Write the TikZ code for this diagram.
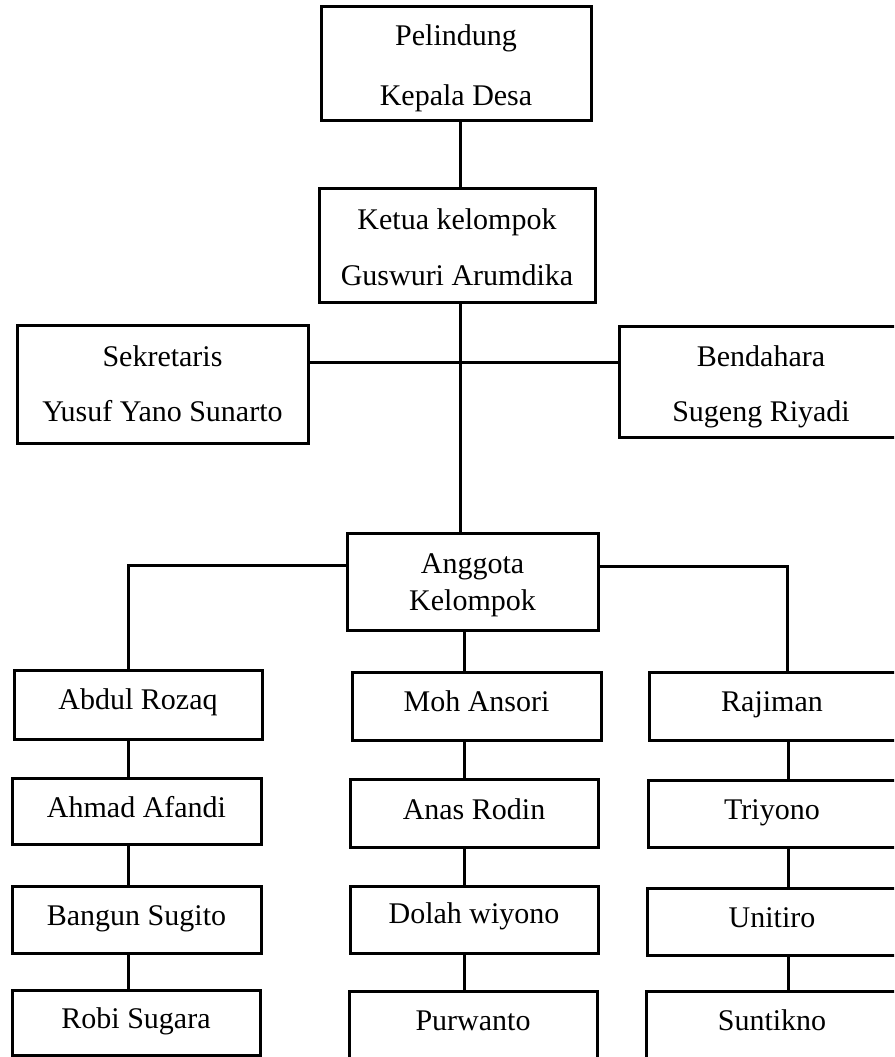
\documentclass[tikz,border=0pt]{standalone}
\usepackage{fontspec}
\setmainfont{Liberation Serif}
\begin{document}
\begin{tikzpicture}[x=1pt,y=-1pt,
  orgbox/.style={draw=black,line width=3pt,fill=white,inner sep=0pt,rectangle,
     minimum width=#1},
  lbl/.style={anchor=base,inner sep=0pt,font=\fontsize{30}{36}\selectfont},
  conn/.style={line width=3pt,draw=black}]
\useasboundingbox (0,0) rectangle (894,1057);
\clip (0,0) rectangle (894,1057);
\fill[white] (0,0) rectangle (894,1057);
% helper: box from (x1,y1) to (x2,y2)
\newcommand{\orgnode}[5]{\node[orgbox=#4-#2 pt, minimum height=#5-#3 pt] (#1) at ({(#2+#4)/2},{(#3+#5)/2}) {};}
\orgnode{pel}{321}{7}{591}{120}
\orgnode{ket}{319}{188}{595}{302}
\orgnode{sek}{17}{325}{308}{443}
\orgnode{ben}{619}{326}{903}{437}
\orgnode{ang}{347}{533}{598}{630}
% left column
\orgnode{abd}{14}{670}{262}{739}
\orgnode{ahm}{12}{778}{261}{844}
\orgnode{ban}{12}{886}{261}{953}
\orgnode{rob}{12}{990}{260}{1055}
% centre column
\orgnode{moh}{352}{672}{601}{740}
\orgnode{ana}{350}{779}{598}{847}
\orgnode{dol}{350}{886}{598}{953}
\orgnode{pur}{349}{991}{597}{1065}
% right column
\orgnode{raj}{649}{672}{898}{740}
\orgnode{tri}{648}{780}{898}{847}
\orgnode{uni}{647}{888}{898}{955}
\orgnode{sun}{646}{991}{898}{1065}
% labels
\node[lbl] (pelA) at (pel.center |- 0,46) {Pelindung};
\node[lbl] (pelB) at (pel.center |- 0,105) {Kepala Desa};
\node[lbl] (ketA) at (ket.center |- 0,229) {Ketua kelompok};
\node[lbl] (ketB) at (ket.center |- 0,285) {Guswuri Arumdika};
\node[lbl] (sekA) at (sek.center |- 0,366) {Sekretaris};
\node[lbl] (sekB) at (sek.center |- 0,421) {Yusuf Yano Sunarto};
\node[lbl] (benA) at (761,366) {Bendahara};
\node[lbl] (benB) at (761,421) {Sugeng Riyadi};
\node[lbl] (angA) at (ang.center |- 0,573) {Anggota};
\node[lbl] (angB) at (ang.center |- 0,610) {Kelompok};
\node[lbl] (abdT) at (abd.center |- 0,709) {Abdul Rozaq};
\node[lbl] (ahmT) at (ahm.center |- 0,817) {Ahmad Afandi};
\node[lbl] (banT) at (ban.center |- 0,925) {Bangun Sugito};
\node[lbl] (robT) at (rob.center |- 0,1028) {Robi Sugara};
\node[lbl] (mohT) at (moh.center |- 0,711) {Moh Ansori};
\node[lbl] (anaT) at (ana.center |- 0,819) {Anas Rodin};
\node[lbl] (dolT) at (dol.center |- 0,923) {Dolah wiyono};
\node[lbl] (purT) at (pur.center |- 0,1030) {Purwanto};
\node[lbl] (rajT) at (772,711) {Rajiman};
\node[lbl] (triT) at (772,819) {Triyono};
\node[lbl] (uniT) at (772,927) {Unitiro};
\node[lbl] (sunT) at (772,1030) {Suntikno};
% junction coordinates
\coordinate (xTop) at (460,0);
\coordinate (jS) at (460,362);
\coordinate (jL) at (128,565);
\coordinate (jR) at (787,566);
\coordinate (xMid) at (464,0);
\coordinate (xL) at (128,0);
\coordinate (xR) at (788,0);
% connectors
\draw[conn] (pel.south -| xTop) -- (ket.north -| xTop);
\draw[conn] (ket.south -| xTop) -- (ang.north -| xTop);
\draw[conn] (sek.east |- jS) -- (ben.west |- jS);
\draw[conn] (ang.west |- jL) -- (jL) -- (abd.north -| jL);
\draw[conn] (ang.east |- jR) -- (jR) -- (raj.north -| jR);
\draw[conn] (ang.south -| xMid) -- (moh.north -| xMid);
\draw[conn] (abd.south -| xL) -- (ahm.north -| xL);
\draw[conn] (ahm.south -| xL) -- (ban.north -| xL);
\draw[conn] (ban.south -| xL) -- (rob.north -| xL);
\draw[conn] (moh.south -| xMid) -- (ana.north -| xMid);
\draw[conn] (ana.south -| xMid) -- (dol.north -| xMid);
\draw[conn] (dol.south -| xMid) -- (pur.north -| xMid);
\draw[conn] (raj.south -| xR) -- (tri.north -| xR);
\draw[conn] (tri.south -| xR) -- (uni.north -| xR);
\draw[conn] (uni.south -| xR) -- (sun.north -| xR);
\end{tikzpicture}
\end{document}
